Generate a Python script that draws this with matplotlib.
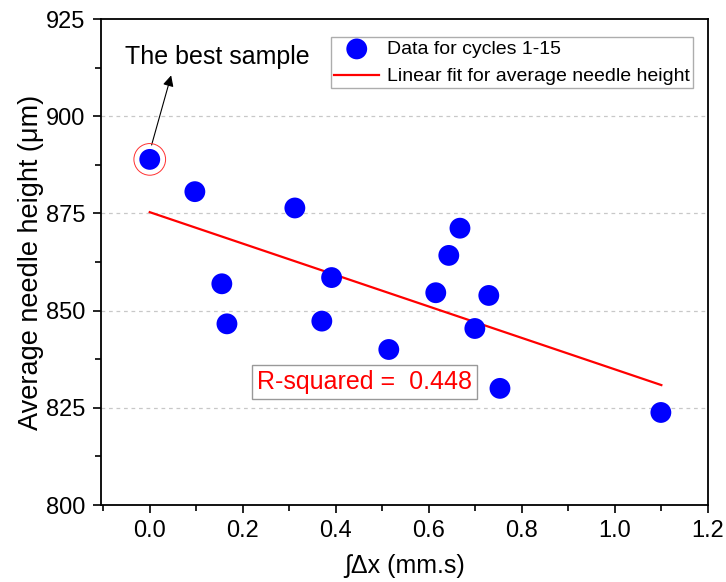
import numpy as np
import matplotlib
matplotlib.use("Agg")
import matplotlib.pyplot as plt
from matplotlib.ticker import MultipleLocator

plt.rcParams['font.family'] = ['Liberation Sans', 'DejaVu Sans']

x_vals = [0.0, 0.097, 0.155, 0.166, 0.312, 0.391, 0.370, 0.514, 0.615, 0.643, 0.667, 0.699, 0.729, 0.753, 1.099]
y_vals = [888.9, 880.6, 856.9, 846.6, 876.4, 858.5, 847.3, 840.0, 854.6, 864.2, 871.2, 845.4, 853.9, 830.0, 823.8]
fit_x_range = [0.0, 1.1]
r_squared_text = "R-squared =  0.448"

fig = plt.figure(figsize=(7.26, 5.82), dpi=100)
ax = fig.add_axes([0.139, 0.1323, 0.836, 0.835])

x = np.array(x_vals)
y = np.array(y_vals)
slope, intercept = np.polyfit(x, y, 1)
fx = np.array(fit_x_range)
fy = slope * fx + intercept

ax.scatter(x, y, s=225, color='#0000ff', edgecolors='none', zorder=3, label='Data for cycles 1-15')
ax.plot(fx, fy, color='red', lw=1.6, zorder=2, label='Linear fit for average needle height')

# highlight best sample
ax.scatter([x_vals[0]], [y_vals[0]], s=520, facecolors='none', edgecolors='#ff3030', linewidths=0.7, zorder=4)
ax.text(0.146, 915.2, 'The best sample', fontsize=18, ha='center', va='center')
ax.annotate('', xy=(0.046, 910.5), xytext=(0.004, 892.6),
            arrowprops=dict(arrowstyle='-|>', color='black', lw=0.8, mutation_scale=16,
                            shrinkA=0, shrinkB=0))

ax.text(0.462, 831.7, r_squared_text, color='red', fontsize=18, ha='center', va='center',
        bbox=dict(boxstyle='square,pad=0.2', facecolor='white', edgecolor='#999999', lw=1.0))

ax.set_xlim(-0.105, 1.2)
ax.set_ylim(800, 925)
ax.xaxis.set_minor_locator(MultipleLocator(0.1))
ax.yaxis.set_major_locator(MultipleLocator(25))
ax.yaxis.set_minor_locator(MultipleLocator(12.5))
ax.set_xticks([0.0, 0.2, 0.4, 0.6, 0.8, 1.0, 1.2])
ax.set_xticklabels(['0.0', '0.2', '0.4', '0.6', '0.8', '1.0', '1.2'])
ax.tick_params(axis='both', which='major', direction='out', length=6, width=1.2, labelsize=17, pad=5)
ax.tick_params(axis='both', which='minor', direction='out', length=4, width=1.2)
for sp in ax.spines.values():
    sp.set_linewidth(1.3)

for yy in [825, 850, 875, 900]:
    ax.axhline(yy, color='#c8c8c8', lw=0.9, ls=(0, (3, 3)), zorder=0)

ax.set_xlabel('∫Δx (mm.s)', fontsize=18, labelpad=8.5)
ax.set_ylabel('Average needle height (μm)', fontsize=19.5, labelpad=1.5)

leg = ax.legend(loc='upper right', bbox_to_anchor=(0.975, 0.962), fontsize=14, frameon=True,
                fancybox=False, edgecolor='#999999', borderpad=0.15, handlelength=2.3,
                handletextpad=0.4, labelspacing=0.5, borderaxespad=0)
leg.get_frame().set_linewidth(1.0)

fig.savefig('out.png', dpi=100)
